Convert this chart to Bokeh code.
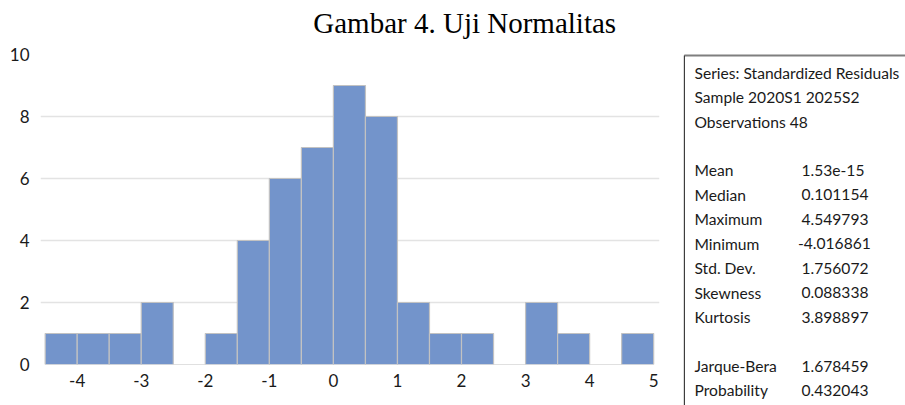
from bokeh.plotting import figure
from bokeh.models import Range1d, FixedTicker, ColumnDataSource
from bokeh.layouts import row, column
from bokeh.core.properties import value
from bokeh.embed import file_html
from bokeh.resources import INLINE

# ---- data ----
bin_left = [-4.5, -4.0, -3.5, -3.0, -2.5, -2.0, -1.5, -1.0, -0.5, 0.0,
            0.5, 1.0, 1.5, 2.0, 2.5, 3.0, 3.5, 4.0, 4.5]
bin_right = [-4.0, -3.5, -3.0, -2.5, -2.0, -1.5, -1.0, -0.5, 0.0, 0.5,
             1.0, 1.5, 2.0, 2.5, 3.0, 3.5, 4.0, 4.5, 5.0]
counts = [1, 1, 1, 2, 0, 1, 4, 6, 7, 9, 8, 2, 1, 1, 0, 2, 1, 0, 1]
x_ticks = [-4, -3, -2, -1, 0, 1, 2, 3, 4, 5]
x_tick_labels = ["-4", "-3", "-2", "-1", "0", "1", "2", "3", "4", "5"]
y_ticks = [0, 2, 4, 6, 8, 10]
grid_ticks = [2, 4, 6, 8]
title_text = "Gambar 4. Uji Normalitas"

header_lines = ["Series: Standardized Residuals", "Sample 2020S1 2025S2", "Observations 48"]
stat_names = ["Mean", "Median", "Maximum", "Minimum", "Std. Dev.", "Skewness", "Kurtosis"]
stat_values = ["1.53e-15", "0.101154", "4.549793", "-4.016861", "1.756072", "0.088338", "3.898897"]
test_names = ["Jarque-Bera", "Probability"]
test_values = ["1.678459", "0.432043"]

# ---- layout (pixels) ----
W, H = 905, 405
TITLE_H = 40
P_W = 683
P2_W = W - P_W
BODY_H = H - TITLE_H
FRAME_L, FRAME_R = 40, 659
FRAME_T, FRAME_B = 14, 324          # within the chart figure
X0, X1 = -4.573, 5.091
Y0, Y1 = 0, 10

TEXT_COL = "#1a1a1a"
BAR_FILL = "#7394CB"
BAR_LINE = "#C2C2C2"


def no_align(fig):
    if "frame_align" in fig.properties():
        fig.frame_align = False


# ---- title strip ----
pt = figure(width=W, height=TITLE_H, output_backend="svg", toolbar_location=None,
            x_range=Range1d(0, W), y_range=Range1d(TITLE_H, 0),
            x_axis_location=None, y_axis_location=None,
            min_border_left=0, min_border_right=0, min_border_top=0, min_border_bottom=0)
pt.outline_line_color = None
pt.grid.visible = False
no_align(pt)
pt.text(x=[464.2], y=[22.5], text=[title_text], text_font=value("Liberation Serif"),
        text_font_size="29px", text_align="center", text_baseline="alphabetic",
        text_color="black")

# ---- histogram ----
p = figure(width=P_W, height=BODY_H, output_backend="svg", toolbar_location=None,
           x_range=Range1d(X0, X1), y_range=Range1d(Y0, Y1),
           min_border_left=FRAME_L, min_border_right=P_W - FRAME_R,
           min_border_top=FRAME_T, min_border_bottom=BODY_H - FRAME_B)
p.outline_line_color = None
no_align(p)

src = ColumnDataSource(dict(left=bin_left, right=bin_right, top=counts))
p.quad(left="left", right="right", bottom=0, top="top", source=src,
       fill_color=BAR_FILL, line_color=BAR_LINE, line_width=1.2)

for ax in (p.xaxis, p.yaxis):
    ax.axis_line_color = None
    ax.major_tick_line_color = None
    ax.minor_tick_line_color = None
    ax.major_label_text_font = "Lato"
    ax.major_label_text_font_size = "17px"
    ax.major_label_text_color = TEXT_COL
p.xaxis.ticker = FixedTicker(ticks=x_ticks)
p.xaxis.major_label_overrides = {t: s for t, s in zip(x_ticks, x_tick_labels)}
p.yaxis.ticker = FixedTicker(ticks=y_ticks)
p.xaxis.major_label_standoff = 3
p.yaxis.major_label_standoff = 5
p.xgrid.grid_line_color = None
p.ygrid.ticker = FixedTicker(ticks=grid_ticks)
p.ygrid.grid_line_color = "#E3E3E3"
p.ygrid.grid_line_width = 1.5

# ---- stats box ----
p2 = figure(width=P2_W, height=BODY_H, output_backend="svg", toolbar_location=None,
            x_range=Range1d(0, P2_W), y_range=Range1d(BODY_H, 0),
            x_axis_location=None, y_axis_location=None,
            min_border_left=0, min_border_right=0, min_border_top=0, min_border_bottom=0)
p2.outline_line_color = None
p2.grid.visible = False
no_align(p2)

BOX_L, BOX_T = 0.8, 15
p2.segment(x0=[BOX_L], y0=[BOX_T], x1=[P2_W + 5], y1=[BOX_T], line_color="#7F7F7F", line_width=2)
p2.segment(x0=[BOX_L], y0=[BOX_T], x1=[BOX_L], y1=[BODY_H + 5], line_color="#333333", line_width=1.3)

ROW0, ROW_H = 32.1, 24.45
LAB_X, VAL_X, MINUS_W = 11, 118, 3.5

lab_txt, lab_y = [], []
val_txt, val_y, val_x = [], [], []
for i, t in enumerate(header_lines):
    lab_txt.append(t); lab_y.append(ROW0 + ROW_H * i)
for j, (n, v) in enumerate(zip(stat_names, stat_values)):
    r = 4 + j
    lab_txt.append(n); lab_y.append(ROW0 + ROW_H * r)
    val_txt.append(v); val_y.append(ROW0 + ROW_H * r)
    val_x.append(VAL_X - (MINUS_W if v.startswith("-") else 0))
for j, (n, v) in enumerate(zip(test_names, test_values)):
    r = 12 + j
    lab_txt.append(n); lab_y.append(ROW0 + ROW_H * r)
    val_txt.append(v); val_y.append(ROW0 + ROW_H * r)
    val_x.append(VAL_X)

p2.text(x=[LAB_X] * len(lab_txt), y=lab_y, text=lab_txt, text_font=value("Lato"),
        text_font_size="15.6px", text_baseline="alphabetic", text_align="left",
        text_color=TEXT_COL)
p2.text(x=val_x, y=val_y, text=val_txt, text_font=value("Lato"),
        text_font_size="15.6px", text_baseline="alphabetic", text_align="left",
        text_color=TEXT_COL)

layout = column(pt, row(p, p2, spacing=0), spacing=0)
open("out.html", "w").write(file_html(layout, INLINE))
